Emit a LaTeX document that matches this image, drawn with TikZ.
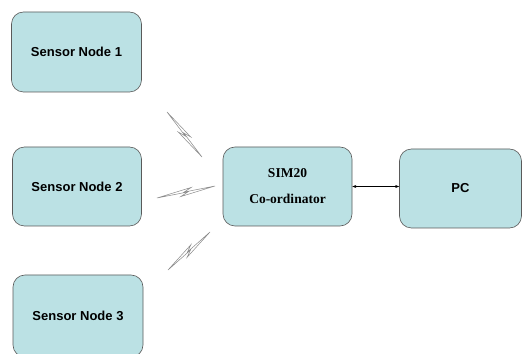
\documentclass[tikz,border=0pt]{standalone}
\usepackage{fontspec}
\setmainfont{Liberation Sans}
\newfontfamily\timesfont{Liberation Serif}
\usetikzlibrary{calc,arrows.meta}
\definecolor{boxfill}{HTML}{BBE1E4}
\definecolor{boxline}{HTML}{5A5A5A}
\definecolor{boltline}{HTML}{8A8A8A}
\newcommand{\mybolt}[2]{%
  \draw[boltstyle] (#1)
    -- ($(#1)!0.6!(#2)!3.4pt!90:(#2)$)
    -- ($(#1)!0.47!(#2)!0.3pt!90:(#2)$)
    -- (#2)
    -- ($(#1)!0.4!(#2)!-3.4pt!90:(#2)$)
    -- ($(#1)!0.53!(#2)!-0.3pt!90:(#2)$)
    -- cycle;}
\begin{document}
\begin{tikzpicture}[x=1pt,y=1pt,
  blk/.style={draw=boxline, fill=boxfill, rounded corners=12pt, line width=0.6pt,
    inner sep=0pt, font=\fontsize{13}{15}\selectfont\bfseries},
  boltstyle/.style={draw=boltline, fill=white, line width=0.5pt, line join=miter},
  link/.style={{Stealth[length=4pt,width=3pt]}-{Stealth[length=4pt,width=3pt]}, line width=0.5pt}]
\useasboundingbox (0,0) rectangle (523,354);
\clip (0,0) rectangle (523,354);
\fill[white] (0,0) rectangle (523,354);
\node[blk, minimum width=130pt, minimum height=80pt] (s1) at (76.5,302) {Sensor Node 1};
\node[blk, minimum width=129pt, minimum height=79pt] (s2) at (77,167.5) {Sensor Node 2};
\node[blk, minimum width=130pt, minimum height=82pt] (s3) at (78,38) {Sensor Node 3};
\node[blk, minimum width=129pt, minimum height=79pt, align=center,
  font=\fontsize{13.5}{26}\timesfont\bfseries] (co) at (287.5,167.5) {SIM20\\Co-ordinator};
\node[blk, minimum width=122pt, minimum height=79pt] (pc) at (460.5,165.5) {PC};
\draw[link] (co.east |- 0,167.5) -- (pc.west |- 0,167.5);
\coordinate (b1a) at (167,242);
\coordinate (b1b) at (202,197);
\coordinate (b2a) at (157,156);
\coordinate (b2b) at (215,168);
\coordinate (b3a) at (168,84);
\coordinate (b3b) at (210,122);
\mybolt{b1a}{b1b}
\mybolt{b2a}{b2b}
\mybolt{b3a}{b3b}
\end{tikzpicture}
\end{document}
